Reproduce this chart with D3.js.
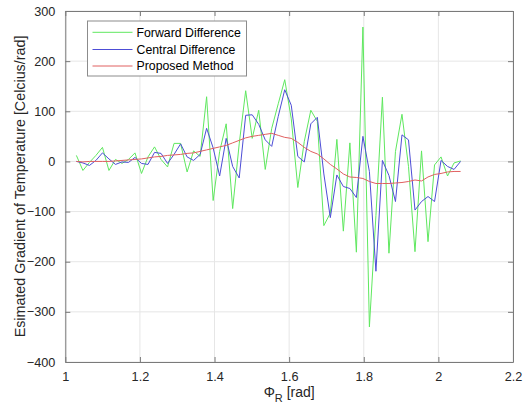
<!DOCTYPE html>
<html>
<head>
<meta charset="utf-8">
<script src="https://cdn.jsdelivr.net/npm/d3@7"></script>
<style>
  html, body { margin: 0; padding: 0; background: #ffffff; }
  svg { display: block; }
  text { font-family: "Liberation Sans", Arial, Helvetica, sans-serif; }
</style>
</head>
<body>
<svg id="chart" width="529" height="412"></svg>
<script>
// ---- data ----
const phi = [1.0297,1.0472,1.0647,1.0821,1.0996,1.1170,1.1345,1.1519,1.1694,1.1868,
             1.2043,1.2217,1.2392,1.2566,1.2741,1.2915,1.3090,1.3265,1.3439,1.3614,
             1.3788,1.3963,1.4137,1.4312,1.4486,1.4661,1.4835,1.5010,1.5184,1.5359,
             1.5533,1.5708,1.5882,1.6057,1.6232,1.6406,1.6581,1.6755,1.6930,1.7104,
             1.7279,1.7453,1.7628,1.7802,1.7977,1.8151,1.8326,1.8500,1.8675,1.8850,
             1.9024,1.9199,1.9373,1.9548,1.9722,1.9897,2.0071,2.0246,2.0420,2.0595];

const forwardDiff = [12,-18,-2,12,28,-18,4,-4,4,17,
                     -24,9,29,4,-11,36,36,-21,21,10,
                     129,-78,20,75,-94,35,141,46,102,-16,
                     66,115,163,85,-52,40,102,80,-128,-103,
                     44,-139,37,-181,268,-330,-108,128,-183,20,
                     94,-10,-180,21,-160,-7,9,-29,-3,1];

const centralDiff = [0,-3,-8,2,17,5,-6,-1,-2,8,
                     -4,-6,18,16,-4,14,35,9,2,14,
                     66,27,-29,46,-10,-33,92,93,74,43,
                     30,90,143,112,10,-1,75,88,-25,-112,
                     -27,-50,-54,-72,50,-20,-219,2,-28,-80,
                     53,43,-97,-80,-70,-80,2,-10,-16,0];

const proposed = [0,-1,0,0,0,0,1,2,3,4,
                  5,7,9,10,12,13,14,16,17,20,
                  23,26,29,32,37,42,47,50,52,54,
                  56,52,48,46,38,28,20,15,5,-6,
                  -15,-25,-31,-32,-34,-40,-44,-44,-44,-43,
                  -42,-40,-37,-39,-31,-26,-24,-21,-20,-20];

const xTicks = [1, 1.2, 1.4, 1.6, 1.8, 2, 2.2];
const yTicks = [-400, -300, -200, -100, 0, 100, 200, 300];
const seriesNames = ["Forward Difference", "Central Difference", "Proposed Method"];
const seriesColors = ["#5fe85f", "#4d4dd6", "#e06060"];
const yLabel = "Esimated Gradient of Temperature [Celcius/rad]";

// ---- layout ----
const L = 65.3, R = 513, T = 11, B = 362;
const svg = d3.select("#chart");
const x = d3.scaleLinear().domain([1, 2.2]).range([L, R]);
const y = d3.scaleLinear().domain([-400, 300]).range([B, T]);

// grid
const grid = svg.append("g");
grid.selectAll("line.gx").data(xTicks).join("line")
  .attr("x1", d => x(d)).attr("x2", d => x(d)).attr("y1", T).attr("y2", B)
  .attr("stroke", "#e6e6e6").attr("stroke-width", 1);
grid.selectAll("line.gy").data(yTicks).join("line")
  .attr("y1", d => y(d)).attr("y2", d => y(d)).attr("x1", L).attr("x2", R)
  .attr("stroke", "#e6e6e6").attr("stroke-width", 1);

// series
const allSeries = [forwardDiff, centralDiff, proposed];
const line = d3.line().x((d, i) => x(phi[i])).y(d => y(d));
allSeries.forEach((s, k) => {
  svg.append("path").datum(s)
    .attr("d", line)
    .attr("fill", "none")
    .attr("stroke", seriesColors[k])
    .attr("stroke-width", 1)
    .attr("stroke-linejoin", "miter");
});

// axes (MATLAB-like box with inward ticks)
const axColor = "#262626";
const tickFont = "12.7px";
const xAxisB = d3.axisBottom(x).tickValues(xTicks).tickFormat(d3.format("")).tickSizeInner(-5).tickSizeOuter(0).tickPadding(10);
const xAxisT = d3.axisTop(x).tickValues(xTicks).tickFormat("").tickSizeInner(-5).tickSizeOuter(0);
const yAxisL = d3.axisLeft(y).tickValues(yTicks).tickFormat(d3.format("")).tickSizeInner(-5).tickSizeOuter(0).tickPadding(10);
const yAxisR = d3.axisRight(y).tickValues(yTicks).tickFormat("").tickSizeInner(-5).tickSizeOuter(0);

function styleAxis(g) {
  g.select(".domain").attr("stroke", "#7a7a7a");
  g.selectAll(".tick line").attr("stroke", "#7a7a7a");
  g.selectAll(".tick text").attr("fill", axColor).style("font-size", tickFont)
   .style("font-family", "'Liberation Sans', Arial, sans-serif");
}
svg.append("g").attr("transform", `translate(0,${B})`).call(xAxisB).call(styleAxis);
svg.append("g").attr("transform", `translate(0,${T})`).call(xAxisT).call(styleAxis);
svg.append("g").attr("transform", `translate(${L},0)`).call(yAxisL).call(styleAxis);
svg.append("g").attr("transform", `translate(${R},0)`).call(yAxisR).call(styleAxis);

// axis labels
svg.append("text")
  .attr("transform", `translate(24.5,${(T + B) / 2}) rotate(-90)`)
  .attr("text-anchor", "middle")
  .attr("fill", axColor)
  .style("font-size", "14.3px")
  .text(yLabel);

const xl = svg.append("text")
  .attr("x", (L + R) / 2).attr("y", 397)
  .attr("text-anchor", "middle")
  .attr("fill", axColor)
  .style("font-size", "14px");
xl.append("tspan").text("\u03A6");
xl.append("tspan").attr("dy", 5).style("font-size", "11px").text("R");
xl.append("tspan").attr("dy", -5).text(" [rad]");

// legend
const lg = svg.append("g");
lg.append("rect").attr("x", 87.5).attr("y", 21).attr("width", 159).attr("height", 55)
  .attr("fill", "#ffffff").attr("stroke", "#8c8c8c").attr("stroke-width", 1);
const rowsY = [32.3, 49.5, 66];
seriesNames.forEach((name, k) => {
  lg.append("line").attr("x1", 92.5).attr("x2", 132.5)
    .attr("y1", rowsY[k]).attr("y2", rowsY[k])
    .attr("stroke", seriesColors[k]).attr("stroke-width", 1);
  lg.append("text").attr("x", 136.5).attr("y", rowsY[k] + 4.3)
    .attr("fill", "#000000").style("font-size", "12.3px").text(name);
});
</script>
</body>
</html>
